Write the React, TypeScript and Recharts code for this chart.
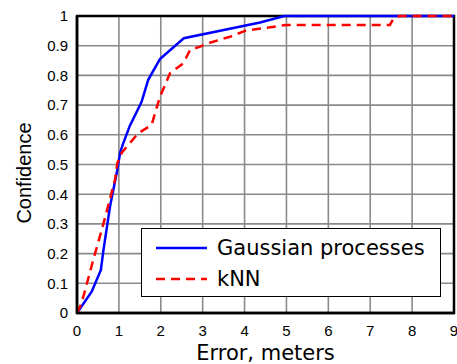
import { LineChart, Line, XAxis, YAxis, CartesianGrid, ReferenceArea, Label } from 'recharts';

// error (m) vs confidence
const gpError = [0, 0.35, 0.57, 0.63, 0.79, 0.96, 1.03, 1.09, 1.26, 1.54, 1.7, 1.98, 2.55, 4.37, 4.95, 9];
const gpConf = [0, 0.072, 0.145, 0.21, 0.36, 0.48, 0.54, 0.566, 0.63, 0.71, 0.785, 0.855, 0.925, 0.978, 1, 1];

const knnError = [0, 0.11, 0.39, 0.63, 0.91, 0.96, 1.07, 1.46, 1.78, 1.98, 2.22, 2.54, 2.7, 2.94, 3.17, 3.65, 4.01, 4.3, 5, 7.47, 7.55, 7.7, 9];
const knnConf = [0, 0.033, 0.18, 0.3, 0.45, 0.504, 0.54, 0.605, 0.633, 0.728, 0.807, 0.841, 0.886, 0.897, 0.91, 0.93, 0.95, 0.956, 0.97, 0.97, 0.99, 1, 1];

const xTicks = [0, 1, 2, 3, 4, 5, 6, 7, 8, 9];
const yTicks = [0, 0.1, 0.2, 0.3, 0.4, 0.5, 0.6, 0.7, 0.8, 0.9, 1];

const gpData = gpError.map((x, i) => ({ x, y: gpConf[i] }));
const knnData = knnError.map((x, i) => ({ x, y: knnConf[i] }));

const armFont = 'Liberation Sans, Arial, sans-serif';
const titleFont = 'DejaVu Sans, Verdana, sans-serif';
const tickFont = { fontFamily: armFont, fontSize: 15, fill: '#000' };

// legend drawn as an overlay so it doesn't take room from the plot
const LegendBox = () => (
  <div style={{
    position: 'absolute', left: 141, top: 228,
    width: 300, height: 69, border: '1.5px solid #000', background: '#fff', boxSizing: 'border-box',
    fontFamily: titleFont, fontSize: 21, color: '#000', paddingTop: 3
  }}>
    <div style={{ display: 'flex', alignItems: 'center', height: 31 }}>
      <svg width={75} height={10}><line x1={14} y1={5} x2={65} y2={5} stroke="#0000ff" strokeWidth={2.5} /></svg>
      <span>Gaussian processes</span>
    </div>
    <div style={{ display: 'flex', alignItems: 'center', height: 31 }}>
      <svg width={75} height={10}><line x1={14} y1={5} x2={65} y2={5} stroke="#ff0000" strokeWidth={2.5} strokeDasharray="9 6" /></svg>
      <span>kNN</span>
    </div>
  </div>
);

export default function App() {
  return (
    <div style={{ position: 'absolute', left: 0, top: 0, width: 457, height: 364, background: '#fff', overflow: 'hidden' }}>
      <LineChart width={457} height={364} margin={{ top: 16, right: 3, bottom: 0, left: 0 }}>
        <CartesianGrid stroke="#8a8a8a" strokeWidth={1.6} vertical horizontal />
        <XAxis
          type="number"
          dataKey="x"
          domain={[0, 9]}
          ticks={xTicks}
          interval={0}
          height={51}
          tick={tickFont}
          tickLine={false}
          axisLine={{ stroke: '#000', strokeWidth: 2.5 }}
          tickMargin={6}
        >
          <Label value="Error, meters" position="insideBottom" offset={4} style={{ fontFamily: titleFont, fontSize: 21, fill: '#000' }} />
        </XAxis>
        <YAxis
          type="number"
          dataKey="y"
          domain={[0, 1]}
          ticks={yTicks}
          interval={0}
          width={77}
          tick={tickFont}
          tickLine={false}
          tickFormatter={(v: number) => (v === 0 || v === 1 ? String(v) : v.toFixed(1))}
          axisLine={{ stroke: '#000', strokeWidth: 2.5 }}
          tickMargin={3}
        >
          <Label
            value="Confidence"
            content={() => (
              <text x={31} y={173} transform="rotate(-90 31 173)" textAnchor="middle" fontFamily={armFont} fontSize={20} fill="#000">
                Confidence
              </text>
            )}
          />
        </YAxis>
        <ReferenceArea x1={0} x2={9} y1={0} y2={1} fill="none" stroke="#000" strokeWidth={2.5} ifOverflow="visible" />
        <Line data={gpData} dataKey="y" type="linear" stroke="#0000ff" strokeWidth={2.5} dot={false} isAnimationActive={false} />
        <Line data={knnData} dataKey="y" type="linear" stroke="#ff0000" strokeWidth={2.5} strokeDasharray="9 6" dot={false} isAnimationActive={false} />
      </LineChart>
      <LegendBox />
    </div>
  );
}
